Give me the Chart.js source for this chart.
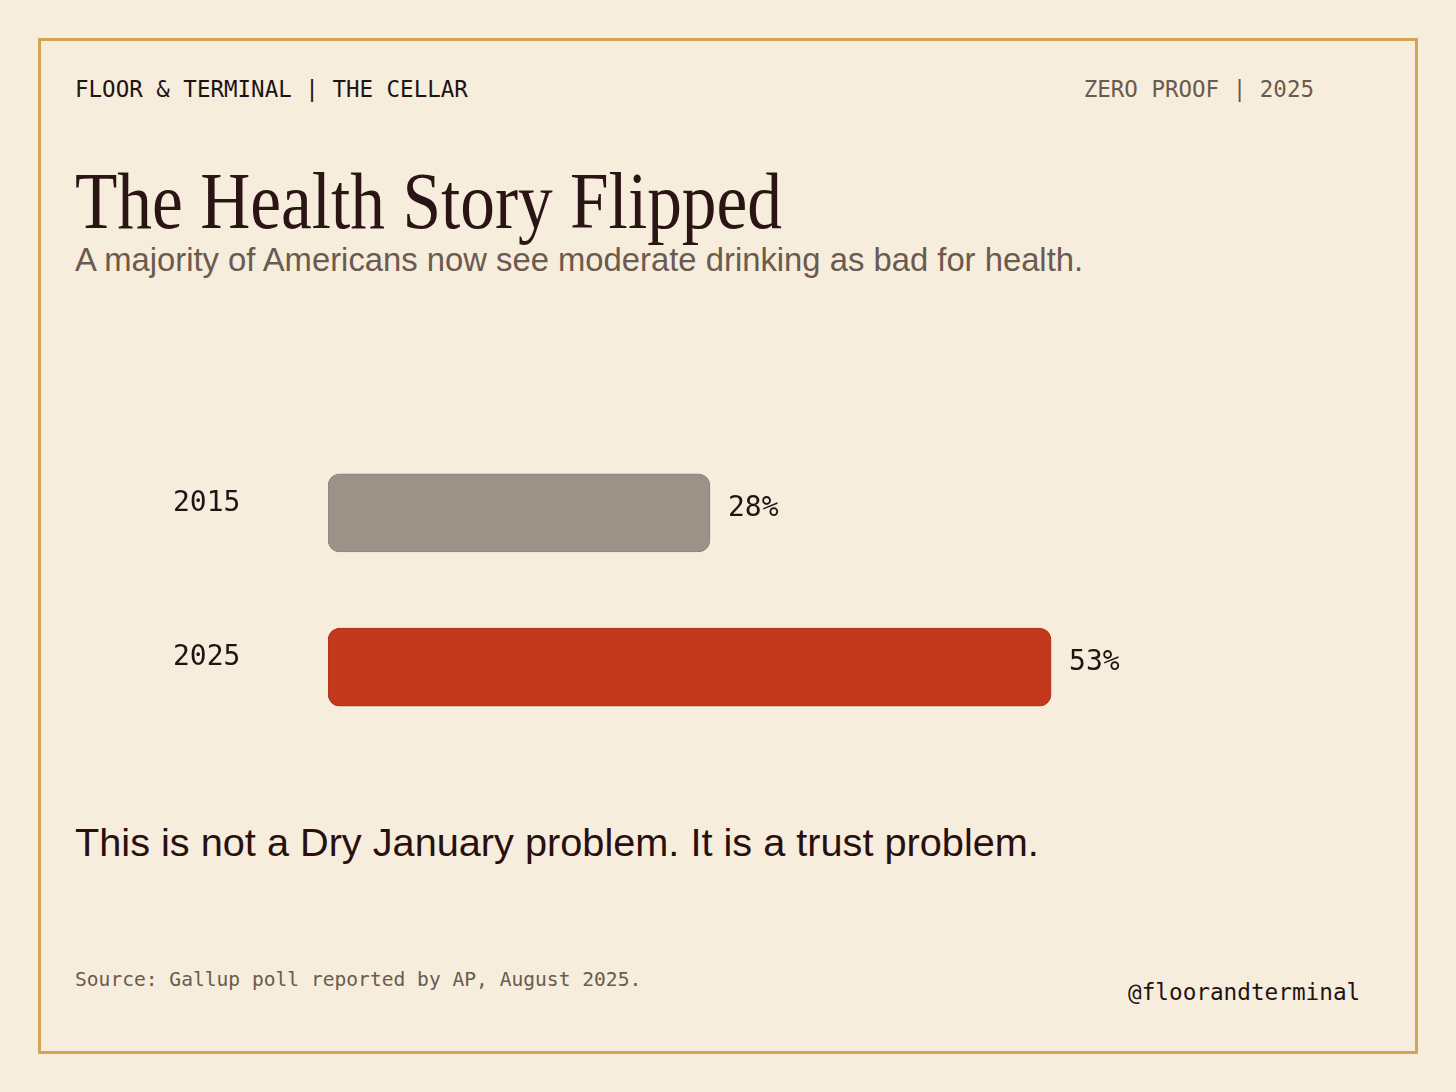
<!DOCTYPE html>
<html>
<head>
<meta charset="utf-8">
<script src="https://cdn.jsdelivr.net/npm/chart.js@4.4.1/dist/chart.umd.min.js"></script>
<style>
  html, body { margin: 0; padding: 0; }
  body { width: 1456px; height: 1092px; background: #f7eddd; position: relative; overflow: hidden; }
  .frame { position: absolute; left: 38px; top: 38px; width: 1374px; height: 1010px; border: 3px solid #d4a556; }
  .t { position: absolute; white-space: nowrap; line-height: 1; }
  .mono { font-family: "DejaVu Sans Mono", monospace; }
  .sans { font-family: "Liberation Sans", Arial, sans-serif; }
  #header { left: 75px; top: 78px; font-size: 22.5px; color: #1e1414; }
  #edition { right: 142px; top: 78px; font-size: 22.5px; color: #6b5a4e; }
  #title { left: 75px; top: 161px; font-family: "Liberation Serif", serif; font-size: 80px; color: #2a1414;
           transform: scaleX(0.867); transform-origin: left top; }
  #subtitle { left: 75px; top: 244px; font-size: 32.8px; color: #6b5a4e; }
  #takeaway { left: 75px; top: 823px; font-size: 39.7px; color: #2a0f0f; }
  #source { left: 75px; top: 970px; font-size: 19.6px; color: #6b5a4e; }
  #handle { left: 1128px; top: 981px; font-size: 22.7px; color: #1e1414; }
  #chartBox { position: absolute; left: 173px; top: 416px; width: 1110px; height: 348px; }
</style>
</head>
<body>
<div class="frame"></div>
<div id="header" class="t mono">FLOOR &amp; TERMINAL | THE CELLAR</div>
<div id="edition" class="t mono">ZERO PROOF | 2025</div>
<div id="title" class="t">The Health Story Flipped</div>
<div id="subtitle" class="t sans">A majority of Americans now see moderate drinking as bad for health.</div>
<div id="chartBox"><canvas id="chart"></canvas></div>
<div id="takeaway" class="t sans">This is not a Dry January problem. It is a trust problem.</div>
<div id="source" class="t mono">Source: Gallup poll reported by AP, August 2025.</div>
<div id="handle" class="t mono">@floorandterminal</div>
<script>
// share of Americans saying moderate drinking is bad for health
const years = ['2015', '2025'];
const shares = [28, 53];
const barColors = ['#9c9288', '#c2391e'];
const barEdges = ['#8e857b', '#b3331a'];

// writes "28%" etc. just past the end of each bar
const valueLabels = {
    id: 'valueLabels',
    afterDatasetsDraw(chart) {
        const ctx = chart.ctx;
        const meta = chart.getDatasetMeta(0);
        ctx.save();
        ctx.font = '28px "DejaVu Sans Mono", monospace';
        ctx.fillStyle = '#1e1414';
        ctx.textAlign = 'left';
        ctx.textBaseline = 'middle';
        meta.data.forEach((bar, i) => {
            ctx.fillText(shares[i] + '%', bar.x + 18, bar.y - 4);
        });
        ctx.restore();
    }
};

new Chart(document.getElementById('chart'), {
    type: 'bar',
    data: {
        labels: years,
        datasets: [{
            data: shares,
            backgroundColor: barColors,
            borderColor: barEdges,
            borderWidth: 1,
            borderSkipped: false,
            borderRadius: 12,
            barThickness: 78
        }]
    },
    options: {
        indexAxis: 'y',
        responsive: true,
        maintainAspectRatio: false,
        animation: false,
        layout: { padding: 0 },
        plugins: { legend: { display: false }, tooltip: { enabled: false } },
        scales: {
            x: { display: false, min: 0, max: 70 },
            y: {
                grid: { display: false },
                border: { display: false },
                afterFit(axis) { axis.width = 155; },
                ticks: {
                    crossAlign: 'far',
                    labelOffset: -9,
                    color: '#1e1414',
                    font: { family: '"DejaVu Sans Mono", monospace', size: 28 }
                }
            }
        }
    },
    plugins: [valueLabels]
});
</script>
</body>
</html>
